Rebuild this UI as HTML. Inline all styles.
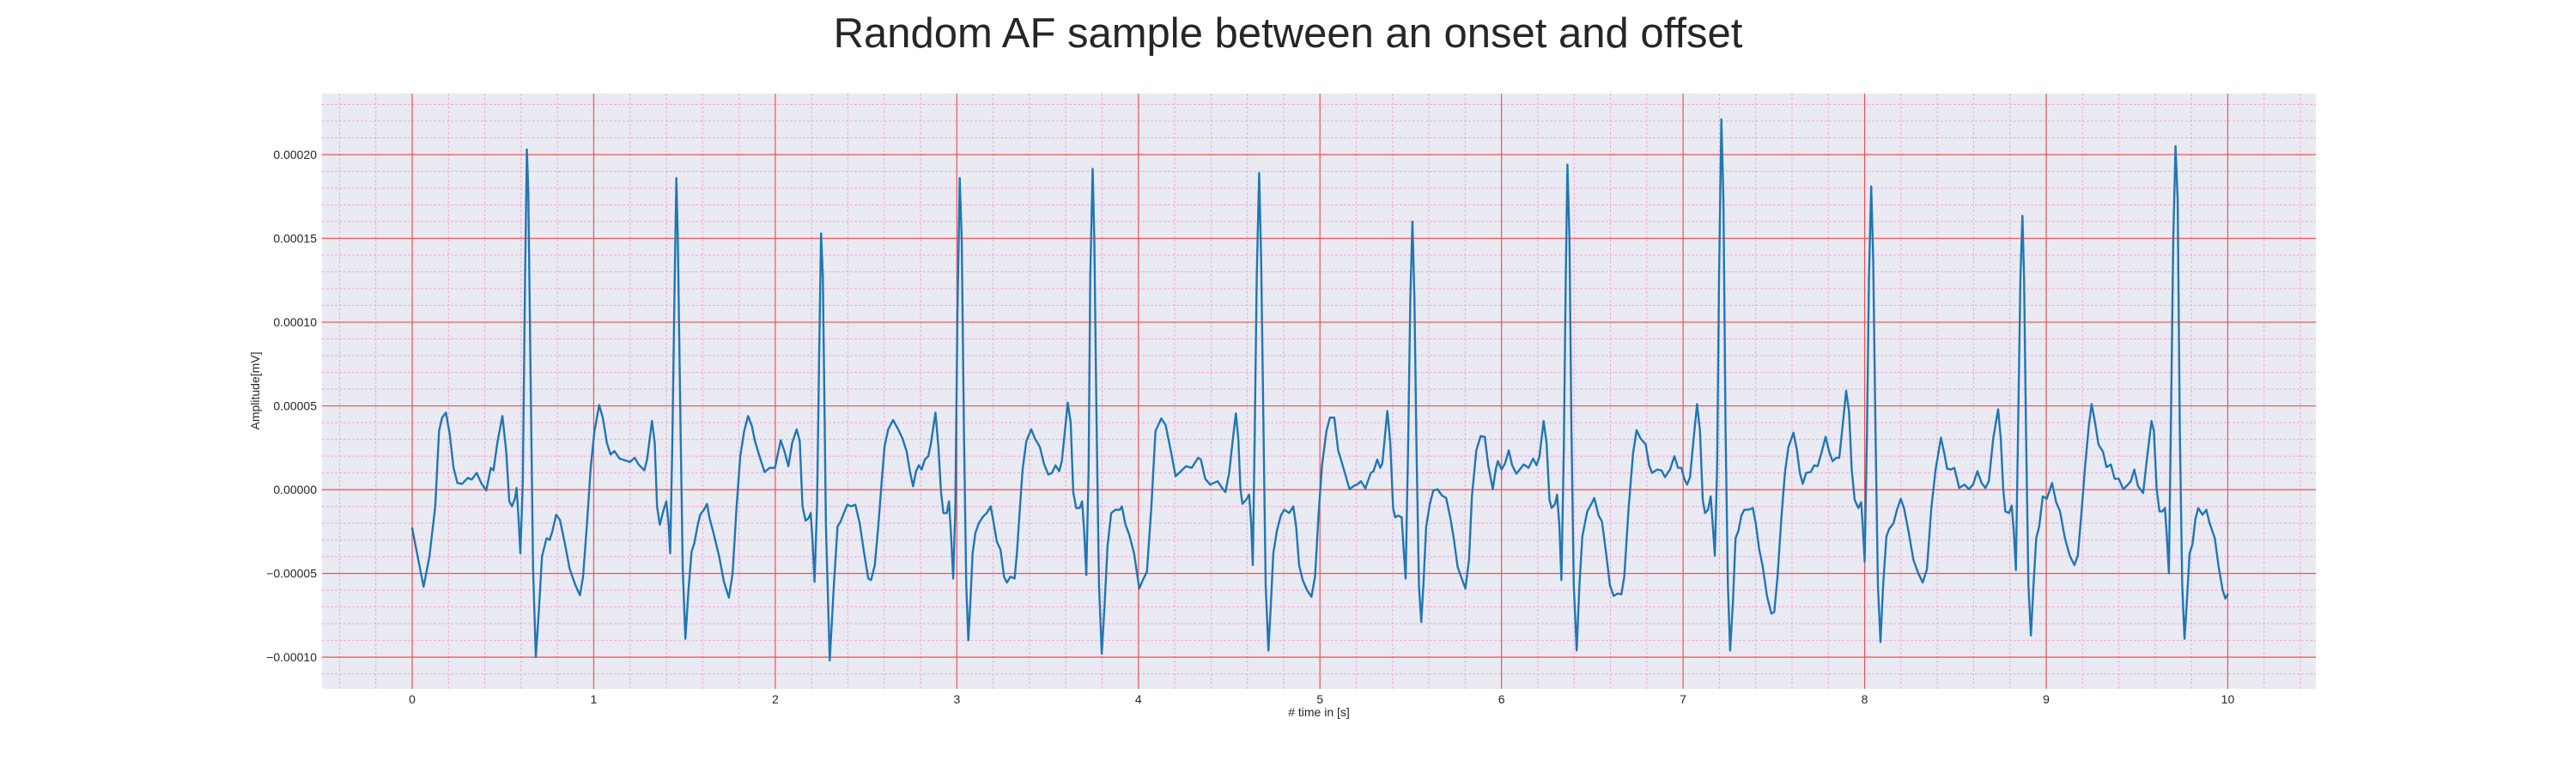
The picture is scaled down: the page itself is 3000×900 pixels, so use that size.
<!DOCTYPE html>
<html><head><meta charset="utf-8"><title>Random AF sample</title>
<style>
html,body{margin:0;padding:0;background:#fff;}
svg{display:block;font-family:"Liberation Sans",Arial,sans-serif;}
</style></head>
<body>
<svg id="chart" width="3000" height="900" viewBox="0 0 3000 900" xmlns="http://www.w3.org/2000/svg">
<text x="1500" y="55" text-anchor="middle" font-size="49" fill="#262626">Random AF sample between an onset and offset</text>
<rect x="375" y="109" width="2322" height="693" fill="#EAEAF2"/>
<g id="grid"></g>
<g id="ticks"></g>
<text transform="translate(302,455) rotate(-90)" text-anchor="middle" font-size="14" fill="#262626">Amplitude[mV]</text>
<text x="1536" y="834" text-anchor="middle" font-size="14" fill="#262626"># time in [s]</text>
<g id="series"></g>
</svg>
<script>
const xTicks=[0,1,2,3,4,5,6,7,8,9,10];
const yTicks=[-0.0001,-0.00005,0,0.00005,0.0001,0.00015,0.0002];
const yTickLabels=["\u22120.00010","\u22120.00005","0.00000","0.00005","0.00010","0.00015","0.00020"];
const times=[0,0.027,0.063,0.095,0.127,0.148,0.165,0.186,0.207,0.228,0.249,0.275,0.307,0.328,0.355,0.38,0.408,0.433,0.448,0.469,0.497,0.518,0.535,0.55,0.567,0.575,0.586,0.596,0.609,0.622,0.632,0.64,0.651,0.666,0.681,0.698,0.715,0.74,0.757,0.772,0.793,0.814,0.841,0.867,0.899,0.924,0.941,0.962,0.983,1.004,1.03,1.05,1.072,1.093,1.114,1.142,1.173,1.2,1.226,1.247,1.279,1.294,1.321,1.336,1.349,1.364,1.385,1.4,1.412,1.421,1.433,1.446,1.455,1.463,1.476,1.49,1.505,1.522,1.539,1.554,1.571,1.586,1.607,1.624,1.638,1.66,1.691,1.717,1.744,1.765,1.786,1.807,1.829,1.85,1.871,1.888,1.913,1.941,1.97,1.998,2.03,2.05,2.072,2.093,2.118,2.135,2.15,2.167,2.184,2.195,2.205,2.216,2.23,2.241,2.252,2.262,2.279,2.3,2.321,2.343,2.36,2.378,2.397,2.417,2.441,2.465,2.488,2.512,2.528,2.548,2.567,2.583,2.602,2.622,2.649,2.677,2.701,2.724,2.743,2.759,2.775,2.791,2.806,2.824,2.843,2.858,2.882,2.898,2.913,2.926,2.945,2.957,2.969,2.98,2.992,3.003,3.016,3.027,3.039,3.052,3.063,3.074,3.087,3.102,3.121,3.145,3.165,3.186,3.2,3.22,3.241,3.26,3.276,3.295,3.318,3.331,3.346,3.362,3.383,3.41,3.43,3.457,3.48,3.504,3.524,3.543,3.564,3.578,3.591,3.611,3.627,3.641,3.657,3.677,3.69,3.701,3.713,3.726,3.735,3.748,3.757,3.769,3.783,3.798,3.814,3.83,3.85,3.874,3.898,3.909,3.929,3.95,3.976,4.005,4.024,4.047,4.071,4.094,4.126,4.15,4.178,4.205,4.234,4.262,4.294,4.329,4.344,4.368,4.395,4.436,4.463,4.479,4.5,4.518,4.537,4.55,4.562,4.573,4.594,4.61,4.621,4.63,4.641,4.652,4.665,4.676,4.689,4.701,4.716,4.73,4.743,4.763,4.784,4.803,4.831,4.853,4.869,4.885,4.905,4.929,4.953,4.973,4.992,5.011,5.036,5.055,5.079,5.1,5.118,5.137,5.163,5.19,5.205,5.226,5.25,5.28,5.295,5.316,5.332,5.343,5.371,5.387,5.403,5.414,5.431,5.45,5.46,5.472,5.485,5.498,5.509,5.52,5.532,5.545,5.558,5.57,5.585,5.605,5.624,5.648,5.672,5.695,5.719,5.738,5.758,5.774,5.801,5.821,5.837,5.861,5.885,5.908,5.927,5.952,5.968,5.98,6.0,6.019,6.04,6.059,6.082,6.122,6.149,6.174,6.193,6.209,6.232,6.248,6.264,6.276,6.295,6.306,6.319,6.33,6.343,6.354,6.363,6.374,6.385,6.398,6.414,6.429,6.445,6.472,6.495,6.511,6.535,6.553,6.574,6.597,6.618,6.64,6.66,6.676,6.7,6.724,6.744,6.766,6.794,6.813,6.829,6.857,6.881,6.9,6.928,6.952,6.972,6.991,7.006,7.022,7.038,7.058,7.077,7.093,7.108,7.121,7.137,7.152,7.164,7.175,7.187,7.198,7.211,7.222,7.234,7.247,7.259,7.274,7.289,7.305,7.321,7.337,7.36,7.384,7.4,7.42,7.439,7.462,7.486,7.502,7.52,7.541,7.561,7.58,7.608,7.627,7.643,7.659,7.678,7.703,7.722,7.741,7.761,7.785,7.805,7.824,7.844,7.86,7.876,7.898,7.914,7.929,7.945,7.965,7.981,7.989,8.0,8.013,8.024,8.036,8.047,8.06,8.073,8.087,8.102,8.12,8.135,8.159,8.178,8.199,8.217,8.241,8.269,8.296,8.32,8.343,8.367,8.391,8.42,8.439,8.454,8.475,8.494,8.521,8.55,8.574,8.597,8.621,8.644,8.665,8.684,8.708,8.735,8.75,8.763,8.775,8.795,8.81,8.821,8.833,8.845,8.858,8.869,8.878,8.889,8.902,8.916,8.93,8.945,8.961,8.981,9.003,9.016,9.032,9.055,9.076,9.103,9.13,9.155,9.174,9.193,9.213,9.234,9.25,9.269,9.288,9.313,9.332,9.356,9.377,9.4,9.424,9.45,9.466,9.485,9.506,9.534,9.553,9.58,9.593,9.608,9.624,9.64,9.654,9.664,9.676,9.689,9.7,9.712,9.724,9.736,9.749,9.762,9.774,9.79,9.806,9.822,9.837,9.861,9.882,9.9,9.929,9.948,9.972,9.987,10.0];
const values=[-2.3,-3.8,-5.8,-4.0,-1.0,3.5,4.3,4.6,3.3,1.3,0.4,0.35,0.7,0.6,1.0,0.4,-0.05,1.3,1.15,2.8,4.4,2.3,-0.7,-1.0,-0.5,0.1,-1.7,-3.8,0.3,12.7,20.3,17.7,7.7,-4.7,-10.0,-7.2,-4.0,-2.9,-3.0,-2.5,-1.5,-1.8,-3.2,-4.7,-5.7,-6.3,-5.2,-2.2,1.3,3.5,5.05,4.3,2.8,2.1,2.3,1.85,1.75,1.65,1.9,1.5,1.15,1.8,4.1,2.8,-1.0,-2.1,-1.2,-0.7,-2.0,-3.8,2.8,12.7,18.6,15.2,5.3,-4.7,-8.9,-6.0,-3.7,-3.2,-2.2,-1.5,-1.2,-0.85,-1.7,-2.6,-4.0,-5.5,-6.45,-5.0,-1.2,2.0,3.5,4.4,3.8,2.9,2.0,1.05,1.3,1.3,2.95,2.3,1.4,2.8,3.6,2.9,-1.0,-1.85,-1.7,-1.4,-3.0,-5.5,-1.0,7.7,15.3,12.7,-2.2,-10.2,-6.0,-2.2,-1.9,-1.4,-0.9,-1.0,-0.9,-2.0,-3.7,-5.3,-5.4,-4.5,-2.2,0.07,2.6,3.6,4.15,3.6,3.05,2.25,1.0,0.2,1.1,1.45,1.2,1.8,2.0,2.8,4.6,2.6,-0.15,-1.4,-1.4,-0.7,-2.9,-5.3,-1.1,10.4,18.6,15.0,3.5,-5.7,-9.0,-6.8,-3.8,-2.6,-2.0,-1.6,-1.4,-1.0,-1.8,-3.1,-3.6,-5.2,-5.55,-5.2,-5.3,-3.8,-1.3,1.2,2.9,3.6,3.05,2.55,1.55,0.9,1.0,1.45,1.1,1.7,3.05,5.2,4.0,-0.15,-1.1,-1.1,-0.7,-2.45,-5.1,1.2,12.7,19.15,15.0,4.65,-5.7,-9.8,-6.8,-3.4,-1.4,-1.2,-1.2,-1.0,-2.1,-2.7,-3.8,-5.9,-5.4,-4.9,-1.1,3.5,4.25,3.85,2.35,0.8,1.1,1.4,1.3,1.9,1.8,0.65,0.3,0.5,0.07,-0.15,1.0,2.8,4.55,3.05,0.07,-0.85,-0.6,-0.3,-2.0,-4.5,3.5,12.7,18.9,13.8,3.5,-5.7,-9.6,-6.8,-3.8,-2.45,-1.55,-1.2,-1.4,-1.0,-2.2,-4.5,-5.4,-6.0,-6.4,-5.2,-1.55,1.45,3.5,4.3,4.3,2.35,1.7,1.0,0.02,0.25,0.3,0.5,0.07,1.0,1.1,1.8,1.3,1.55,4.7,2.8,-1.1,-1.65,-1.55,-1.65,-3.4,-5.3,2.35,11.5,16.0,11.5,2.35,-5.7,-7.9,-5.7,-2.2,-0.85,-0.05,0.02,-0.35,-0.5,-1.75,-3.0,-4.6,-5.1,-5.9,-4.2,-0.4,2.35,3.2,3.15,1.45,0.02,1.2,1.7,1.2,1.55,2.35,1.45,0.95,1.5,1.3,1.85,1.45,2.0,4.1,2.8,-0.6,-1.1,-0.85,-0.3,-2.2,-5.4,2.35,12.7,19.4,15.0,3.5,-5.7,-9.6,-5.7,-2.8,-1.3,-0.85,-0.5,-1.55,-1.9,-3.6,-5.7,-6.35,-6.2,-6.25,-5.2,-1.1,2.15,3.55,3.05,2.7,1.45,1.0,1.2,1.15,0.75,1.2,2.0,1.3,1.3,0.65,0.3,0.75,3.05,5.1,3.5,-0.6,-1.4,-1.2,-0.4,-2.2,-3.95,1.2,12.7,22.1,17.3,3.5,-5.7,-9.6,-6.8,-2.9,-2.45,-1.55,-1.2,-1.2,-1.1,-2.0,-3.6,-4.6,-6.35,-7.4,-7.3,-5.2,-1.75,1.0,2.55,3.4,2.35,1.0,0.35,1.0,1.05,1.45,1.4,2.15,3.15,2.25,1.7,1.9,1.9,3.5,5.9,4.65,1.2,-0.6,-1.1,-0.75,-2.0,-4.3,3.5,12.7,18.1,13.8,3.5,-5.7,-9.1,-5.7,-2.8,-2.35,-2.0,-1.2,-0.55,-1.1,-2.45,-4.2,-5.0,-5.55,-4.75,-1.1,1.2,3.1,2.15,1.25,1.2,1.3,0.1,0.3,0.02,0.3,1.1,0.4,0.1,0.5,3.05,4.8,3.05,0.07,-1.3,-1.4,-0.95,-2.45,-4.8,3.5,12.7,16.35,12.7,3.5,-5.7,-8.7,-5.7,-2.9,-2.2,-0.4,-0.55,-0.15,0.4,-0.75,-1.3,-2.9,-3.95,-4.5,-3.95,-1.55,1.2,3.75,5.1,4.0,2.7,2.25,1.35,1.5,0.65,0.65,0.02,0.3,0.5,1.2,0.2,-0.2,1.65,4.1,3.5,0.07,-1.3,-1.3,-1.1,-2.7,-5.0,5.8,15.0,20.5,17.3,3.5,-5.7,-8.9,-6.8,-3.8,-3.25,-1.75,-1.1,-1.5,-1.2,-2.0,-2.9,-4.5,-6.0,-6.5,-6.25];
const VALUE_SCALE=1e-5;

const L=375,R=2697,T=109,B=802;
const XMIN=-0.4966,XMAX=10.485,YMIN=-0.0001189,YMAX=0.0002364;
function sx(t){return L+(t-XMIN)/(XMAX-XMIN)*(R-L);}
function sy(v){return B-(v-YMIN)/(YMAX-YMIN)*(B-T);}
const NS="http://www.w3.org/2000/svg";
const grid=document.getElementById('grid');
const ticks=document.getElementById('ticks');
function line(parent,x1,y1,x2,y2,stroke,w,dash){
  const l=document.createElementNS(NS,'line');
  l.setAttribute('x1',x1);l.setAttribute('y1',y1);l.setAttribute('x2',x2);l.setAttribute('y2',y2);
  l.setAttribute('stroke',stroke);l.setAttribute('stroke-width',w);
  if(dash)l.setAttribute('stroke-dasharray',dash);
  parent.appendChild(l);return l;
}
for(let i=-2;i<=52;i++){
  const t=i*0.2; if(t<XMIN||t>XMAX||i%5===0)continue;
  const l=line(grid,sx(t),T,sx(t),B,'#f0a8dc',1,'3,2');
  
  
}
for(let i=-11;i<=23;i++){
  const v=i*1e-5; if(v<YMIN||v>YMAX||i%5===0)continue;
  const l=line(grid,L,sy(v),R,sy(v),'#f0a8dc',1,'3,2');
  
  
}
xTicks.forEach(t=>{
  const l=line(grid,sx(t),T,sx(t),B,'#f25050',1.2);
  
  
  const tx=document.createElementNS(NS,'text');
  tx.setAttribute('x',sx(t));tx.setAttribute('y',819);tx.setAttribute('text-anchor','middle');
  tx.setAttribute('font-size','14');tx.setAttribute('fill','#262626');
  tx.textContent=String(t);
  
  
  ticks.appendChild(tx);
});
yTicks.forEach((v,i)=>{
  const l=line(grid,L,sy(v),R,sy(v),'#f25050',1.2);
  
  
  const tx=document.createElementNS(NS,'text');
  tx.setAttribute('x',369);tx.setAttribute('y',sy(v)+5);tx.setAttribute('text-anchor','end');
  tx.setAttribute('font-size','14');tx.setAttribute('fill','#262626');
  tx.textContent=yTickLabels[i];
  
  
  ticks.appendChild(tx);
});
const pts=times.map((t,i)=>sx(t).toFixed(1)+','+sy(values[i]*VALUE_SCALE).toFixed(1)).join(' ');
const pl=document.createElementNS(NS,'polyline');
pl.setAttribute('points',pts);
pl.setAttribute('fill','none');pl.setAttribute('stroke','#1f77b4');pl.setAttribute('stroke-width','2.4');
pl.setAttribute('stroke-linejoin','round');pl.setAttribute('stroke-linecap','round');


document.getElementById('series').appendChild(pl);
</script>
</body></html>
